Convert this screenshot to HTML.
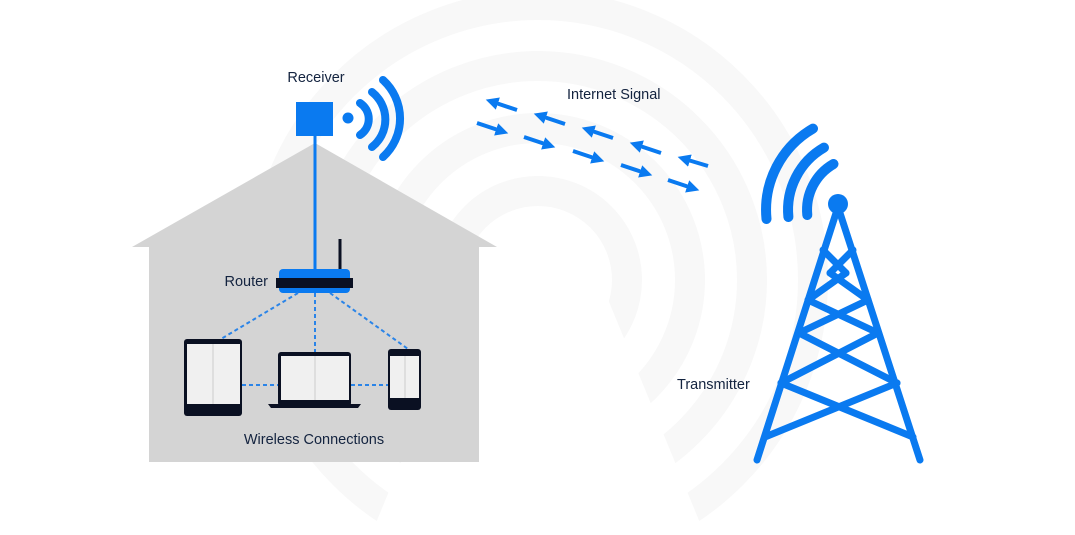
<!DOCTYPE html>
<html><head><meta charset="utf-8"><style>
html,body{margin:0;padding:0;background:#fff;}
svg{display:block;}
text{font-family:"Liberation Sans",Arial,sans-serif;font-size:14.5px;fill:#13233f;}
</style></head><body>
<svg width="1075" height="535" viewBox="0 0 1075 535" xmlns="http://www.w3.org/2000/svg">
<defs>
<marker id="ah" markerWidth="4" markerHeight="4" refX="0.5" refY="1.6" orient="auto" markerUnits="strokeWidth">
<path d="M0,0 L3.2,1.6 L0,3.2 z" fill="#0a7af0"/></marker>
<clipPath id="cut"><path d="M0,0 H1075 V535 H705 L600,280 H476 L371,535 H0 Z"/></clipPath>
</defs>
<g fill="none" stroke="#f8f8f8" stroke-width="30" clip-path="url(#cut)">
<circle cx="538" cy="280" r="89"/>
<circle cx="538" cy="280" r="152"/>
<circle cx="538" cy="280" r="214"/>
<circle cx="538" cy="280" r="275"/>
</g>
<!-- house -->
<polygon points="315,143 497,247 479,247 479,462 149,462 149,247 132,247" fill="#d4d4d4"/>
<!-- receiver -->
<line x1="315" y1="134" x2="315" y2="272" stroke="#0a7af0" stroke-width="3"/>
<rect x="296" y="102" width="37" height="34" fill="#0a7af0"/>
<circle cx="348" cy="118" r="5.5" fill="#0a7af0"/>
<g fill="none" stroke="#0a7af0" stroke-width="8" stroke-linecap="round">
<path d="M360,103 A19,19 0 0 1 360,135"/>
<path d="M372,92 A35,35 0 0 1 372,147"/>
<path d="M383,80 A52,52 0 0 1 383,157"/>
</g>
<!-- router -->
<line x1="340" y1="239" x2="340" y2="272" stroke="#0a1022" stroke-width="3"/>
<rect x="279" y="269" width="71" height="24" rx="4" fill="#0a7af0"/>
<rect x="276" y="278" width="77" height="10" fill="#0a1022"/>
<!-- dashed -->
<g stroke="#2a84e8" stroke-width="2" stroke-dasharray="4,3" fill="none">
<line x1="298" y1="293" x2="221" y2="339"/>
<line x1="315" y1="293" x2="315" y2="352"/>
<line x1="330" y1="293" x2="408" y2="349"/>
<line x1="242" y1="385" x2="278" y2="385"/>
<line x1="351" y1="385" x2="388" y2="385"/>
</g>
<!-- tablet -->
<rect x="184" y="339" width="58" height="77" rx="3" fill="#0a1022"/>
<rect x="187" y="344" width="53" height="60" fill="#f0f0f0"/>
<line x1="213" y1="344" x2="213" y2="404" stroke="#ccc" stroke-width="1"/>
<!-- laptop -->
<rect x="278" y="352" width="73" height="54" rx="3" fill="#0a1022"/>
<rect x="281" y="356" width="68" height="44" fill="#f0f0f0"/>
<line x1="315" y1="356" x2="315" y2="400" stroke="#ccc" stroke-width="1"/>
<path d="M268,404 H361 L358,408 H271 Z" fill="#0a1022"/>
<!-- phone -->
<rect x="388" y="349" width="33" height="61" rx="3" fill="#0a1022"/>
<rect x="390" y="356" width="29" height="42" fill="#f0f0f0"/>
<line x1="405" y1="356" x2="405" y2="398" stroke="#ccc" stroke-width="1"/>
<!-- labels -->
<text x="316" y="82" text-anchor="middle">Receiver</text>
<text x="268" y="286" text-anchor="end">Router</text>
<text x="314" y="444" text-anchor="middle">Wireless Connections</text>
<text x="567" y="99">Internet Signal</text>
<text x="677" y="389">Transmitter</text>
<!-- arrows -->
<g stroke="#0a7af0" stroke-width="4" marker-end="url(#ah)">
<line x1="517" y1="110" x2="496" y2="103"/>
<line x1="565" y1="124" x2="544" y2="117"/>
<line x1="613" y1="138" x2="592" y2="131"/>
<line x1="661" y1="153" x2="640" y2="146"/>
<line x1="708" y1="166" x2="688" y2="160"/>
<line x1="477" y1="123" x2="498" y2="130"/>
<line x1="524" y1="137" x2="545" y2="144"/>
<line x1="573" y1="151" x2="594" y2="158"/>
<line x1="621" y1="165" x2="642" y2="172"/>
<line x1="668" y1="180" x2="689" y2="187"/>
</g>
<!-- transmitter -->
<g fill="none" stroke="#0a7af0" stroke-width="10" stroke-linecap="round">
<path d="M833.5,164 A53,53 0 0 0 807.3,215"/>
<path d="M824,147.6 A72,72 0 0 0 788.4,217"/>
<path d="M813,128.6 A94,94 0 0 0 766.5,219"/>
</g>
<g stroke="#0a7af0" stroke-width="7" stroke-linecap="round" fill="none">
<line x1="837" y1="210" x2="757" y2="460"/>
<line x1="839" y1="210" x2="920" y2="460"/>
<line x1="823" y1="250" x2="846" y2="273"/>
<line x1="853" y1="250" x2="830" y2="273"/>
<line x1="830" y1="273" x2="868" y2="300"/>
<line x1="846" y1="273" x2="808" y2="300"/>
<line x1="808" y1="300" x2="878" y2="333"/>
<line x1="868" y1="300" x2="799" y2="333"/>
<line x1="799" y1="333" x2="897" y2="383"/>
<line x1="878" y1="333" x2="781" y2="383"/>
<line x1="781" y1="383" x2="913" y2="437"/>
<line x1="897" y1="383" x2="765" y2="437"/>
</g>
<circle cx="838" cy="204" r="10" fill="#0a7af0"/>
</svg>
</body></html>
